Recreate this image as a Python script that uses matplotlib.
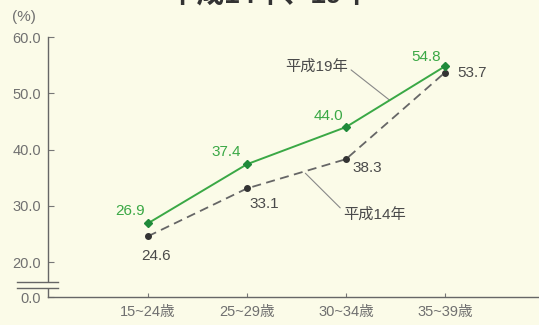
import matplotlib.pyplot as plt
from matplotlib.patches import Rectangle

plt.rcParams['font.family'] = ['Liberation Sans', 'Noto Sans CJK JP', 'DejaVu Sans']

# data
ages = ['15~24歳', '25~29歳', '30~34歳', '35~39歳']
h19 = [26.9, 37.4, 44.0, 54.8]
h14 = [24.6, 33.1, 38.3, 53.7]
yticks = [20.0, 30.0, 40.0, 50.0, 60.0]
ybottom = 13.8   # where "0.0" sits after the axis break

bg = '#fbfbe8'
green = '#3aa845'
dark = '#4a4a4a'
grey = '#707070'

fig = plt.figure(figsize=(5.39, 3.25), dpi=100, facecolor=bg)
ax = fig.add_axes([0.089, 0.086, 0.911, 0.80])
ax.set_facecolor(bg)

x = [0, 1, 2, 3]
ax.plot(x, h14, color='#666666', lw=1.3, ls=(0, (5, 3)), marker='o', ms=4,
        mfc='#333333', mec='#333333', zorder=3)
ax.plot(x, h19, color=green, lw=1.4, marker='D', ms=4,
        mfc='#1f8a3a', mec='#1f8a3a', zorder=4)

ax.set_xlim(-1.01, 3.95)
ax.set_ylim(ybottom, 60)
ax.set_yticks([ybottom] + yticks)
ax.set_yticklabels(['0.0'] + ['%.1f' % v for v in yticks])
ax.set_xticks(x)
ax.set_xticklabels(ages)
for s in ['top', 'right']:
    ax.spines[s].set_visible(False)
for s in ['left', 'bottom']:
    ax.spines[s].set_color('#666666')
    ax.spines[s].set_linewidth(1.0)
ax.tick_params(axis='y', direction='in', length=4, color='#777777',
               labelcolor=grey, labelsize=10.5, pad=5)
ax.tick_params(axis='x', direction='in', length=3, color='#777777',
               labelcolor=grey, labelsize=10.5, pad=6)

# axis break
b1, b2 = 16.5, 15.4
trans = ax.get_yaxis_transform()
ax.add_patch(Rectangle((-0.01, b2), 0.02, b1 - b2, transform=trans,
                       facecolor=bg, edgecolor='none', clip_on=False, zorder=5))
for b in (b1, b2):
    ax.plot([-0.064, 0.02], [b, b], transform=trans, color='#666666',
            lw=1.0, clip_on=False, zorder=6)

# value labels
g_off = [(-2, 9), (-4, 9), (-2, 8), (-3, 7)]
d_off = [(6, -14), (2, -11), (5, -6.5), (9, 0)]
d_ha = ['center', 'left', 'left', 'left']
for i in range(4):
    ax.annotate('%.1f' % h19[i], (x[i], h19[i]), xytext=g_off[i],
                textcoords='offset points', color=green, fontsize=11,
                ha='right', va='center')
    ax.annotate('%.1f' % h14[i], (x[i], h14[i]), xytext=d_off[i],
                textcoords='offset points', color=dark, fontsize=11,
                ha=d_ha[i], va='center')

# series call-outs
ax.annotate('平成19年', xy=(2.44, 48.8), xytext=(1.39, 54.8),
            color=dark, fontsize=11, ha='left', va='center',
            arrowprops=dict(arrowstyle='-', color='#888888', lw=0.8,
                            shrinkA=0, shrinkB=0, relpos=(1.0, 0.4)))
ax.annotate('平成14年', xy=(1.59, 35.8), xytext=(1.97, 28.4),
            color=dark, fontsize=11, ha='left', va='center',
            arrowprops=dict(arrowstyle='-', color='#888888', lw=0.8,
                            shrinkA=0, shrinkB=0, relpos=(0.0, 0.8)))

fig.text(0.022, 0.948, '(%)', color=grey, fontsize=11, ha='left', va='center')
fig.text(0.50, 0.988, '－平成14年、19年－', color='#333333', fontsize=20,
         fontweight='bold', ha='center', va='baseline')

fig.savefig('out.png', dpi=100, facecolor=bg)
